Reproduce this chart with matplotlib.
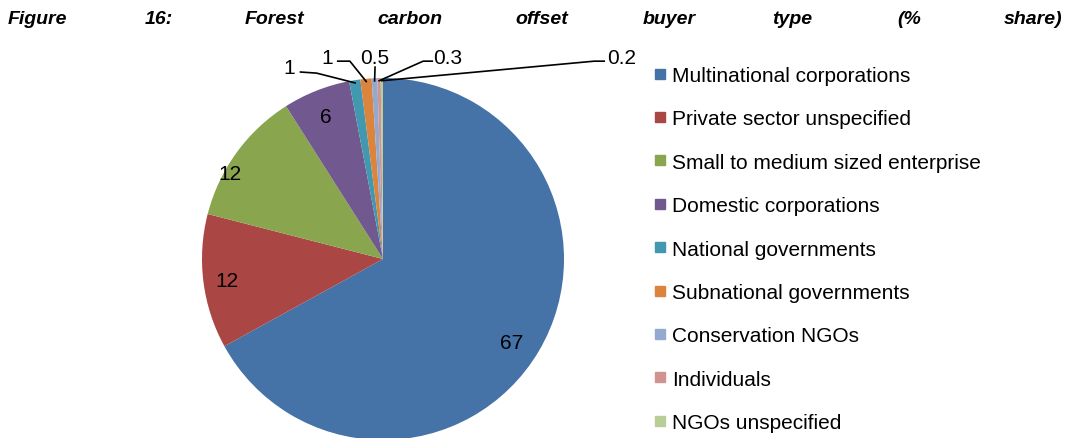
import matplotlib
matplotlib.use("Agg")
import matplotlib.pyplot as plt
import numpy as np
from matplotlib.lines import Line2D

plt.rcParams["font.family"] = ["Liberation Sans", "DejaVu Sans"]

# data
buyers = ["Multinational corporations", "Private sector unspecified",
          "Small to medium sized enterprise", "Domestic corporations",
          "National governments", "Subnational governments",
          "Conservation NGOs", "Individuals", "NGOs unspecified"]
shares = [67, 12, 12, 6, 1, 1, 0.5, 0.3, 0.2]
share_labels = ["67", "12", "12", "6", "1", "1", "0.5", "0.3", "0.2"]
colors = ["#4572A7", "#AA4643", "#89A54E", "#71588F", "#4198AF",
          "#DB843D", "#93A9CF", "#D19392", "#B9CD96"]
title_words = ["Figure", "16:", "Forest", "carbon", "offset", "buyer", "type", "(%", "share)"]

# layout
W, H = 1070, 439
CX, CY, R = 383, 260, 181
title_x = [8, 145, 245, 377, 515, 643, 772, 897, 1062]
# inside labels (pie units)
inside_pos = [(0.711, -0.46), (-0.861, -0.12), (-0.844, 0.475), (-0.317, 0.79)]
# outside labels: text pos, leader start, elbow (pie units)
outside = [
    ((-0.517, 1.056), (-0.456, 1.033), (-0.367, 1.027)),
    ((-0.306, 1.116), (-0.250, 1.093), (-0.183, 1.093)),
    ((-0.044, 1.116), (-0.044, 1.060), (-0.044, 1.060)),
    ((0.356, 1.116), (0.272, 1.093), (0.222, 1.093)),
    ((1.317, 1.116), (1.222, 1.093), (1.167, 1.093)),
]

fig = plt.figure(figsize=(W / 100, H / 100), dpi=100)
ax = fig.add_axes([(CX - R) / W, (H - CY - R) / H, 2 * R / W, 2 * R / H])
wedges, _ = ax.pie(shares, colors=colors, startangle=90, counterclock=False,
                   radius=1, wedgeprops=dict(linewidth=0))
ax.set_xlim(-1, 1); ax.set_ylim(-1, 1)
ax.set_aspect("equal")
ax.axis("off")

for (x, y), lab in zip(inside_pos, share_labels[:4]):
    ax.text(x, y, lab, ha="center", va="center", fontsize=15, color="black")

for w, lab, (tpos, start, elbow) in zip(wedges[4:], share_labels[4:], outside):
    mid = np.deg2rad((w.theta1 + w.theta2) / 2)
    tip = (0.985 * np.cos(mid), 0.985 * np.sin(mid))
    ax.plot([start[0], elbow[0], tip[0]], [start[1], elbow[1], tip[1]],
            color="black", lw=1.2, clip_on=False)
    ax.text(tpos[0], tpos[1], lab, ha="center", va="center", fontsize=15,
            color="black", clip_on=False)

handles = [Line2D([], [], marker="s", ls="", color=c, markersize=7) for c in colors]
fig.legend(handles, buyers, loc="upper left", bbox_to_anchor=(654 / W, 1 - 67 / H),
           frameon=False, fontsize=15, handlelength=0.55, handletextpad=0.3,
           labelspacing=1.17, borderaxespad=0, borderpad=0)

for i, (x, word) in enumerate(zip(title_x, title_words)):
    fig.text(x / W, 1 - 24 / H, word, ha="right" if i == len(title_words) - 1 else "left",
             va="baseline", fontsize=14, fontweight="bold", fontstyle="italic")

fig.savefig("out.png", dpi=100)
